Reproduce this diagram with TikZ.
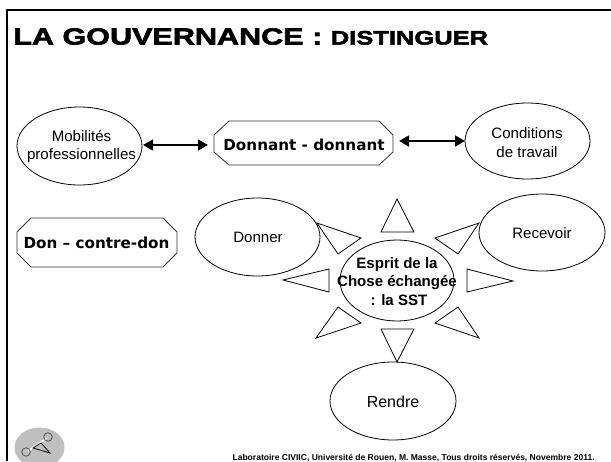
\documentclass[tikz,border=0pt]{standalone}
\usepackage{fontspec}
\setmainfont{Liberation Sans}
\newfontfamily\vera{DejaVu Sans}
\newfontfamily\wide[FakeStretch=1.31,FakeBold=2.5]{Liberation Sans Bold}
\usetikzlibrary{arrows.meta,shapes.geometric}
\tikzset{
  oval/.style={draw,line width=0.6pt,ellipse,inner sep=0pt},
  ovaltext/.style={align=center,font=\fontsize{11.3}{14}\selectfont,inner sep=0pt},
  octlabel/.style={align=center,font=\vera\bfseries\fontsize{11.4}{14}\selectfont,inner sep=0pt},
  octline/.style={draw=black!80,line width=0.6pt},
  tri/.style={draw,line width=0.6pt,line join=miter},
  link/.style={line width=1.8pt,{Triangle[width=8pt,length=7.5pt]}-{Triangle[width=8pt,length=7.5pt]}}
}
\begin{document}
\begin{tikzpicture}[x=0.75pt,y=-0.75pt]
\useasboundingbox (0,0) rectangle (611,461);
\fill[white] (0,0) rectangle (611,461);
\draw[line width=1.5pt] (6.5,461) -- (6.5,9.5) -- (611,9.5);
\node[anchor=west,inner sep=0pt] (title) at (13,36.5) {\wide\fontsize{17.5}{24}\selectfont LA GOUVERNANCE : \fontsize{14.6}{24}\selectfont DISTINGUER};
% triangles
\draw[tri] (397,199) -- (414,232) -- (381,232) -- cycle;
\draw[tri] (317,223) -- (361,238) -- (338,254) -- cycle;
\draw[tri] (479,223) -- (435,238) -- (458,254) -- cycle;
\draw[tri] (283,280) -- (329,269) -- (329,292) -- cycle;
\draw[tri] (513,281) -- (467,269) -- (467,292) -- cycle;
\draw[tri] (316,338) -- (361,323) -- (338,307) -- cycle;
\draw[tri] (479,338) -- (435,323) -- (458,307) -- cycle;
\draw[tri] (397,362) -- (381,329) -- (414,329) -- cycle;
% ellipses
\node[oval,minimum width=125*0.75pt,minimum height=78*0.75pt] (mob) at (79.5,146) {};
\node[oval,minimum width=125*0.75pt,minimum height=76*0.75pt] (cond) at (527.5,141) {};
\node[oval,minimum width=125*0.75pt,minimum height=78*0.75pt] (don) at (257.5,237) {};
\node[oval,minimum width=126*0.75pt,minimum height=77*0.75pt] (rec) at (542,232.5) {};
\node[oval,minimum width=114*0.75pt,minimum height=81*0.75pt] (esp) at (397,280.5) {};
\node[oval,minimum width=126*0.75pt,minimum height=78*0.75pt] (ren) at (393,401) {};
\node[ovaltext] (mobt) at (81.5,146.5) {Mobilités\\professionnelles};
\node[ovaltext] (condt) at (527,142.5) {Conditions\\de travail};
\node[ovaltext] (dont) at (258,237) {Donner};
\node[ovaltext] (rect) at (542,233) {Recevoir};
\node[ovaltext,font=\bfseries\fontsize{11.3}{14}\selectfont] (espt) at (397,281.5) {Esprit de la\\Chose échangée\\\hspace*{3pt}: la SST};
\node[ovaltext,font=\fontsize{12}{14}\selectfont] (rent) at (393,402) {Rendre};
% octagons
\draw[octline] (229,121) -- (379,121) -- (393,135) -- (393,152) -- (379,165) -- (229,165) -- (214,152) -- (214,135) -- cycle;
\node[octlabel] (dd) at (304,145) {Donnant - donnant};
\draw[octline] (31,218) -- (163,218) -- (177,232) -- (177,253) -- (163,267) -- (31,267) -- (17,253) -- (17,232) -- cycle;
\node[octlabel] (dc) at (96.5,242.5) {Don – contre-don};
% links
\coordinate (a1) at (143,145);
\coordinate (a2) at (208,145);
\coordinate (b1) at (399,141);
\coordinate (b2) at (465,141);
\draw[link] (a1) -- (a2);
\draw[link] (b1) -- (b2);
% logo
\begin{scope}
\clip (0,0) rectangle (611,461);
\fill[black!25] (39.5,447.5) ellipse (25*0.75pt and 20*0.75pt);
\draw[white,line width=1.2pt] (28,451) -- (47,438);
\draw[black!75,line width=0.5pt] (26,452) circle (3.2pt);
\draw[black!75,line width=0.5pt] (48,437) circle (3.2pt);
\draw[black,line width=0.6pt] (33,448) -- (50,453) -- (41,443) -- cycle;
\end{scope}
% footer
\node[inner sep=0pt,anchor=east] (foot) at (595,458.5) {\bfseries\fontsize{6.4}{7}\selectfont Laboratoire CIVIIC, Université de Rouen, M. Masse, Tous droits réservés, Novembre 2011.};
\end{tikzpicture}
\end{document}
